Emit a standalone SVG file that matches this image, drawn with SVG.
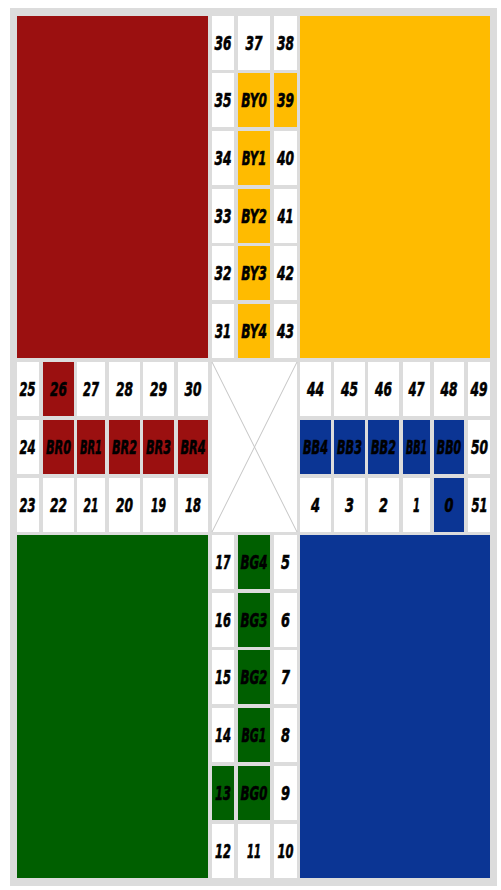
<svg xmlns="http://www.w3.org/2000/svg" width="501" height="890" viewBox="0 0 501 890">
<style>
.w{fill:#ffffff}.r{fill:#9b1010}.y{fill:#ffbb00}.g{fill:#005f00}.b{fill:#0b3594}
text{font-family:"Liberation Sans Narrow","DejaVu Sans Condensed","DejaVu Sans",sans-serif;font-size:20px;font-weight:bold;font-style:italic;fill:#000;stroke:#000;stroke-width:0.6;text-anchor:middle}
.x{stroke:#c4c4c4;stroke-width:1;fill:none}
</style>
<rect x="10" y="8" width="487" height="878" fill="#dcdcdc"/>
<g id="quadrants">
<rect id="home-red" class="r" x="17" y="16" width="191" height="342"/>
<rect id="home-yellow" class="y" x="300" y="16" width="190" height="342"/>
<rect id="home-green" class="g" x="17" y="535" width="191" height="343"/>
<rect id="home-blue" class="b" x="300" y="535" width="190" height="343"/>
</g>
<g id="center">
<rect class="w" x="212" y="362" width="85" height="170"/>
<line class="x" x1="212" y1="362" x2="297" y2="532"/>
<line class="x" x1="297" y1="362" x2="212" y2="532"/>
</g>
<g id="top-arm">
<g id="c36"><rect class="w" x="212" y="16" width="22" height="54"/><text x="223" y="50" textLength="17" lengthAdjust="spacingAndGlyphs">36</text></g>
<g id="c37"><rect class="w" x="238" y="16" width="32" height="54"/><text x="254" y="50" textLength="17" lengthAdjust="spacingAndGlyphs">37</text></g>
<g id="c38"><rect class="w" x="274" y="16" width="23" height="54"/><text x="285.5" y="50" textLength="17" lengthAdjust="spacingAndGlyphs">38</text></g>
<g id="c35"><rect class="w" x="212" y="73" width="22" height="54"/><text x="223" y="107" textLength="17" lengthAdjust="spacingAndGlyphs">35</text></g>
<g id="cBY0"><rect class="y" x="238" y="73" width="32" height="54"/><text transform="translate(254,107) scale(0.625,1)" textLength="41" lengthAdjust="spacingAndGlyphs">BY0</text></g>
<g id="c39"><rect class="y" x="274" y="73" width="23" height="54"/><text x="285.5" y="107" textLength="17" lengthAdjust="spacingAndGlyphs">39</text></g>
<g id="c34"><rect class="w" x="212" y="131" width="22" height="54"/><text x="223" y="165" textLength="17" lengthAdjust="spacingAndGlyphs">34</text></g>
<g id="cBY1"><rect class="y" x="238" y="131" width="32" height="54"/><text transform="translate(254,165) scale(0.625,1)" textLength="39" lengthAdjust="spacingAndGlyphs">BY1</text></g>
<g id="c40"><rect class="w" x="274" y="131" width="23" height="54"/><text x="285.5" y="165" textLength="17" lengthAdjust="spacingAndGlyphs">40</text></g>
<g id="c33"><rect class="w" x="212" y="189" width="22" height="54"/><text x="223" y="223" textLength="17" lengthAdjust="spacingAndGlyphs">33</text></g>
<g id="cBY2"><rect class="y" x="238" y="189" width="32" height="54"/><text transform="translate(254,223) scale(0.625,1)" textLength="41" lengthAdjust="spacingAndGlyphs">BY2</text></g>
<g id="c41"><rect class="w" x="274" y="189" width="23" height="54"/><text x="285.5" y="223" textLength="16" lengthAdjust="spacingAndGlyphs">41</text></g>
<g id="c32"><rect class="w" x="212" y="246" width="22" height="54"/><text x="223" y="280" textLength="17" lengthAdjust="spacingAndGlyphs">32</text></g>
<g id="cBY3"><rect class="y" x="238" y="246" width="32" height="54"/><text transform="translate(254,280) scale(0.625,1)" textLength="41" lengthAdjust="spacingAndGlyphs">BY3</text></g>
<g id="c42"><rect class="w" x="274" y="246" width="23" height="54"/><text x="285.5" y="280" textLength="17" lengthAdjust="spacingAndGlyphs">42</text></g>
<g id="c31"><rect class="w" x="212" y="304" width="22" height="54"/><text x="223" y="338" textLength="16" lengthAdjust="spacingAndGlyphs">31</text></g>
<g id="cBY4"><rect class="y" x="238" y="304" width="32" height="54"/><text transform="translate(254,338) scale(0.625,1)" textLength="41" lengthAdjust="spacingAndGlyphs">BY4</text></g>
<g id="c43"><rect class="w" x="274" y="304" width="23" height="54"/><text x="285.5" y="338" textLength="17" lengthAdjust="spacingAndGlyphs">43</text></g>
</g>
<g id="left-arm">
<g id="c25"><rect class="w" x="17" y="362" width="22" height="54"/><text x="27.5" y="396" textLength="16" lengthAdjust="spacingAndGlyphs">25</text></g>
<g id="c26"><rect class="r" x="43" y="362" width="31" height="54"/><text x="58.5" y="396" textLength="17" lengthAdjust="spacingAndGlyphs">26</text></g>
<g id="c27"><rect class="w" x="77" y="362" width="28" height="54"/><text x="91" y="396" textLength="16" lengthAdjust="spacingAndGlyphs">27</text></g>
<g id="c28"><rect class="w" x="109" y="362" width="31" height="54"/><text x="124.5" y="396" textLength="17" lengthAdjust="spacingAndGlyphs">28</text></g>
<g id="c29"><rect class="w" x="143" y="362" width="31" height="54"/><text x="158.5" y="396" textLength="17" lengthAdjust="spacingAndGlyphs">29</text></g>
<g id="c30"><rect class="w" x="178" y="362" width="30" height="54"/><text x="193" y="396" textLength="17" lengthAdjust="spacingAndGlyphs">30</text></g>
<g id="c24"><rect class="w" x="17" y="420" width="22" height="54"/><text x="27.5" y="454" textLength="16" lengthAdjust="spacingAndGlyphs">24</text></g>
<g id="cBR0"><rect class="r" x="43" y="420" width="31" height="54"/><text transform="translate(58.5,454) scale(0.625,1)" textLength="40" lengthAdjust="spacingAndGlyphs">BR0</text></g>
<g id="cBR1"><rect class="r" x="77" y="420" width="28" height="54"/><text transform="translate(91,454) scale(0.625,1)" textLength="35" lengthAdjust="spacingAndGlyphs">BR1</text></g>
<g id="cBR2"><rect class="r" x="109" y="420" width="31" height="54"/><text transform="translate(124.5,454) scale(0.625,1)" textLength="40" lengthAdjust="spacingAndGlyphs">BR2</text></g>
<g id="cBR3"><rect class="r" x="143" y="420" width="31" height="54"/><text transform="translate(158.5,454) scale(0.625,1)" textLength="40" lengthAdjust="spacingAndGlyphs">BR3</text></g>
<g id="cBR4"><rect class="r" x="178" y="420" width="30" height="54"/><text transform="translate(193,454) scale(0.625,1)" textLength="40" lengthAdjust="spacingAndGlyphs">BR4</text></g>
<g id="c23"><rect class="w" x="17" y="478" width="22" height="54"/><text x="27.5" y="512" textLength="16" lengthAdjust="spacingAndGlyphs">23</text></g>
<g id="c22"><rect class="w" x="43" y="478" width="31" height="54"/><text x="58.5" y="512" textLength="17" lengthAdjust="spacingAndGlyphs">22</text></g>
<g id="c21"><rect class="w" x="77" y="478" width="28" height="54"/><text x="91" y="512" textLength="15" lengthAdjust="spacingAndGlyphs">21</text></g>
<g id="c20"><rect class="w" x="109" y="478" width="31" height="54"/><text x="124.5" y="512" textLength="17" lengthAdjust="spacingAndGlyphs">20</text></g>
<g id="c19"><rect class="w" x="143" y="478" width="31" height="54"/><text x="158.5" y="512" textLength="15" lengthAdjust="spacingAndGlyphs">19</text></g>
<g id="c18"><rect class="w" x="178" y="478" width="30" height="54"/><text x="193" y="512" textLength="16" lengthAdjust="spacingAndGlyphs">18</text></g>
</g>
<g id="right-arm">
<g id="c44"><rect class="w" x="300" y="362" width="31" height="54"/><text x="315.5" y="396" textLength="17" lengthAdjust="spacingAndGlyphs">44</text></g>
<g id="c45"><rect class="w" x="334" y="362" width="31" height="54"/><text x="349.5" y="396" textLength="17" lengthAdjust="spacingAndGlyphs">45</text></g>
<g id="c46"><rect class="w" x="368" y="362" width="31" height="54"/><text x="383.5" y="396" textLength="17" lengthAdjust="spacingAndGlyphs">46</text></g>
<g id="c47"><rect class="w" x="403" y="362" width="27" height="54"/><text x="416.5" y="396" textLength="16" lengthAdjust="spacingAndGlyphs">47</text></g>
<g id="c48"><rect class="w" x="434" y="362" width="30" height="54"/><text x="449" y="396" textLength="17" lengthAdjust="spacingAndGlyphs">48</text></g>
<g id="c49"><rect class="w" x="468" y="362" width="22" height="54"/><text x="479" y="396" textLength="17" lengthAdjust="spacingAndGlyphs">49</text></g>
<g id="cBB4"><rect class="b" x="300" y="420" width="31" height="54"/><text transform="translate(315.5,454) scale(0.625,1)" textLength="40" lengthAdjust="spacingAndGlyphs">BB4</text></g>
<g id="cBB3"><rect class="b" x="334" y="420" width="31" height="54"/><text transform="translate(349.5,454) scale(0.625,1)" textLength="40" lengthAdjust="spacingAndGlyphs">BB3</text></g>
<g id="cBB2"><rect class="b" x="368" y="420" width="31" height="54"/><text transform="translate(383.5,454) scale(0.625,1)" textLength="40" lengthAdjust="spacingAndGlyphs">BB2</text></g>
<g id="cBB1"><rect class="b" x="403" y="420" width="27" height="54"/><text transform="translate(416.5,454) scale(0.625,1)" textLength="34" lengthAdjust="spacingAndGlyphs">BB1</text></g>
<g id="cBB0"><rect class="b" x="434" y="420" width="30" height="54"/><text transform="translate(449,454) scale(0.625,1)" textLength="39" lengthAdjust="spacingAndGlyphs">BB0</text></g>
<g id="c50"><rect class="w" x="468" y="420" width="22" height="54"/><text x="479.5" y="454" textLength="17" lengthAdjust="spacingAndGlyphs">50</text></g>
<g id="c4"><rect class="w" x="300" y="478" width="31" height="54"/><text x="315.5" y="512" textLength="9" lengthAdjust="spacingAndGlyphs">4</text></g>
<g id="c3"><rect class="w" x="334" y="478" width="31" height="54"/><text x="349.5" y="512" textLength="9" lengthAdjust="spacingAndGlyphs">3</text></g>
<g id="c2"><rect class="w" x="368" y="478" width="31" height="54"/><text x="383.5" y="512" textLength="9" lengthAdjust="spacingAndGlyphs">2</text></g>
<g id="c1"><rect class="w" x="403" y="478" width="27" height="54"/><text x="416.5" y="512" textLength="7" lengthAdjust="spacingAndGlyphs">1</text></g>
<g id="c0"><rect class="b" x="434" y="478" width="30" height="54"/><text x="449" y="512" textLength="9" lengthAdjust="spacingAndGlyphs">0</text></g>
<g id="c51"><rect class="w" x="468" y="478" width="22" height="54"/><text x="479.5" y="512" textLength="16" lengthAdjust="spacingAndGlyphs">51</text></g>
</g>
<g id="bottom-arm">
<g id="c17"><rect class="w" x="212" y="535" width="22" height="54"/><text x="223" y="569" textLength="15" lengthAdjust="spacingAndGlyphs">17</text></g>
<g id="cBG4"><rect class="g" x="238" y="535" width="32" height="54"/><text transform="translate(254,569) scale(0.625,1)" textLength="43" lengthAdjust="spacingAndGlyphs">BG4</text></g>
<g id="c5"><rect class="w" x="274" y="535" width="23" height="54"/><text x="285.5" y="569" textLength="9" lengthAdjust="spacingAndGlyphs">5</text></g>
<g id="c16"><rect class="w" x="212" y="593" width="22" height="54"/><text x="223" y="627" textLength="16" lengthAdjust="spacingAndGlyphs">16</text></g>
<g id="cBG3"><rect class="g" x="238" y="593" width="32" height="54"/><text transform="translate(254,627) scale(0.625,1)" textLength="43" lengthAdjust="spacingAndGlyphs">BG3</text></g>
<g id="c6"><rect class="w" x="274" y="593" width="23" height="54"/><text x="285.5" y="627" textLength="9" lengthAdjust="spacingAndGlyphs">6</text></g>
<g id="c15"><rect class="w" x="212" y="650" width="22" height="54"/><text x="223" y="684" textLength="16" lengthAdjust="spacingAndGlyphs">15</text></g>
<g id="cBG2"><rect class="g" x="238" y="650" width="32" height="54"/><text transform="translate(254,684) scale(0.625,1)" textLength="43" lengthAdjust="spacingAndGlyphs">BG2</text></g>
<g id="c7"><rect class="w" x="274" y="650" width="23" height="54"/><text x="285.5" y="684" textLength="9" lengthAdjust="spacingAndGlyphs">7</text></g>
<g id="c14"><rect class="w" x="212" y="708" width="22" height="54"/><text x="223" y="742" textLength="16" lengthAdjust="spacingAndGlyphs">14</text></g>
<g id="cBG1"><rect class="g" x="238" y="708" width="32" height="54"/><text transform="translate(254,742) scale(0.625,1)" textLength="40" lengthAdjust="spacingAndGlyphs">BG1</text></g>
<g id="c8"><rect class="w" x="274" y="708" width="23" height="54"/><text x="285.5" y="742" textLength="9" lengthAdjust="spacingAndGlyphs">8</text></g>
<g id="c13"><rect class="g" x="212" y="766" width="22" height="54"/><text x="223" y="800" textLength="16" lengthAdjust="spacingAndGlyphs">13</text></g>
<g id="cBG0"><rect class="g" x="238" y="766" width="32" height="54"/><text transform="translate(254,800) scale(0.625,1)" textLength="43" lengthAdjust="spacingAndGlyphs">BG0</text></g>
<g id="c9"><rect class="w" x="274" y="766" width="23" height="54"/><text x="285.5" y="800" textLength="9" lengthAdjust="spacingAndGlyphs">9</text></g>
<g id="c12"><rect class="w" x="212" y="824" width="22" height="54"/><text x="223" y="858" textLength="16" lengthAdjust="spacingAndGlyphs">12</text></g>
<g id="c11"><rect class="w" x="238" y="824" width="32" height="54"/><text x="254" y="858" textLength="14" lengthAdjust="spacingAndGlyphs">11</text></g>
<g id="c10"><rect class="w" x="274" y="824" width="23" height="54"/><text x="285.5" y="858" textLength="16" lengthAdjust="spacingAndGlyphs">10</text></g>
</g>
</svg>
